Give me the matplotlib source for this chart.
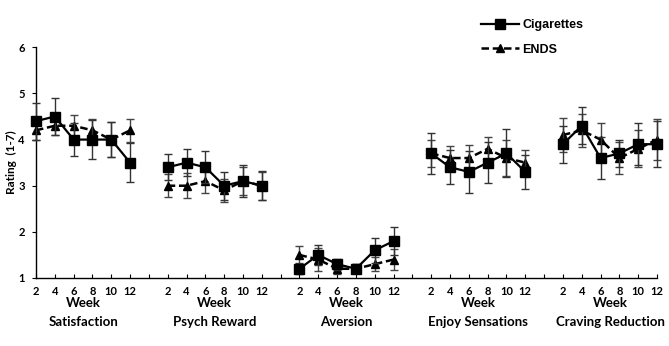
import matplotlib
matplotlib.use("Agg")
import matplotlib.pyplot as plt
import numpy as np

# ── Data ──────────────────────────────────────────────────────────────────────
weeks = ["2", "4", "6", "8", "10", "12"]
groups = ["Satisfaction", "Psych Reward", "Aversion", "Enjoy Sensations", "Craving Reduction"]

cig_mean = [
    [4.4, 4.5, 4.0, 4.0, 4.0, 3.5],
    [3.4, 3.5, 3.4, 3.0, 3.1, 3.0],
    [1.2, 1.5, 1.3, 1.2, 1.6, 1.8],
    [3.7, 3.4, 3.3, 3.5, 3.7, 3.3],
    [3.9, 4.3, 3.6, 3.7, 3.9, 3.9],
]
cig_err = [
    [0.40, 0.40, 0.35, 0.43, 0.38, 0.42],
    [0.28, 0.30, 0.35, 0.30, 0.35, 0.32],
    [0.12, 0.22, 0.12, 0.10, 0.27, 0.30],
    [0.45, 0.37, 0.45, 0.45, 0.52, 0.37],
    [0.40, 0.40, 0.45, 0.30, 0.45, 0.50],
]
ends_mean = [
    [4.2, 4.3, 4.3, 4.2, 4.0, 4.2],
    [3.0, 3.0, 3.1, 2.9, 3.1, 3.0],
    [1.5, 1.4, 1.2, 1.2, 1.3, 1.4],
    [3.7, 3.6, 3.6, 3.8, 3.6, 3.5],
    [4.1, 4.2, 4.0, 3.6, 3.8, 4.0],
]
ends_err = [
    [0.20, 0.20, 0.23, 0.25, 0.38, 0.25],
    [0.25, 0.27, 0.25, 0.25, 0.30, 0.30],
    [0.20, 0.25, 0.12, 0.10, 0.15, 0.22],
    [0.30, 0.27, 0.28, 0.25, 0.40, 0.28],
    [0.37, 0.35, 0.35, 0.35, 0.40, 0.45],
]

SLOTS = 7  # 6 weeks + 1 empty slot between groups
BOLD = dict(family="Lato", fontweight="bold")

fig = plt.figure(figsize=(6.69, 3.46), dpi=100)
ax = fig.add_axes([36 / 669, 1 - 278 / 346, 621 / 669, (278 - 47.3) / 346])

leg_lines = {}
for g in range(len(groups)):
    x = np.arange(len(weeks)) + g * SLOTS
    e = ax.errorbar(x, ends_mean[g], yerr=ends_err[g], color="black", ecolor="#444444",
                    elinewidth=1.0, capsize=3, capthick=1.0, linestyle=(0, (3, 1.5)),
                    linewidth=1.8, marker="^", markersize=6, clip_on=False, zorder=3)
    c = ax.errorbar(x, cig_mean[g], yerr=cig_err[g], color="black", ecolor="#333333",
                    elinewidth=1.0, capsize=3, capthick=1.0, linestyle="-",
                    linewidth=1.6, marker="s", markersize=6.5, clip_on=False, zorder=4)
    if g == 0:
        leg_lines["Cigarettes"] = c.lines[0]
        leg_lines["ENDS"] = e.lines[0]
    ax.text(2.5 + g * SLOTS, -0.11, "Week", transform=ax.get_xaxis_transform(),
            ha="center", va="center", fontsize=9.5, **BOLD)
    ax.text(2.5 + g * SLOTS, -0.192, groups[g], transform=ax.get_xaxis_transform(),
            ha="center", va="center", fontsize=9.5, **BOLD)

n_slots = len(groups) * SLOTS - 1
tick_labels = [(weeks[i % SLOTS] if i % SLOTS < len(weeks) else "") for i in range(n_slots)]
ax.set_xticks(np.arange(n_slots))
ax.set_xticklabels(tick_labels, fontsize=8, **BOLD)
ax.set_xlim(0, n_slots - 1)
ax.set_ylim(1, 6)
ax.set_yticks([1, 2, 3, 4, 5, 6])
ax.set_yticklabels(["1", "2", "3", "4", "5", "6"], fontsize=8, **BOLD)
ax.tick_params(axis="x", direction="in", length=3, pad=6)
ax.tick_params(axis="y", direction="out", length=3, pad=5)
ax.set_ylabel("Rating  (1-7)", fontsize=8.5, va="center", **BOLD)
ax.yaxis.set_label_coords(-0.04, 0.5)

for side in ("top", "right"):
    ax.spines[side].set_visible(False)
for side in ("left", "bottom"):
    ax.spines[side].set_linewidth(1.0)

fig.legend([leg_lines["Cigarettes"], leg_lines["ENDS"]], ["Cigarettes", "ENDS"],
           loc="upper left", bbox_to_anchor=(470 / 669, 1 - 8 / 346),
           frameon=False, handlelength=3.0, labelspacing=1.0, handletextpad=0.3,
           prop=dict(family="Liberation Sans", weight="bold", size=9))

fig.savefig("out.png", dpi=100)
